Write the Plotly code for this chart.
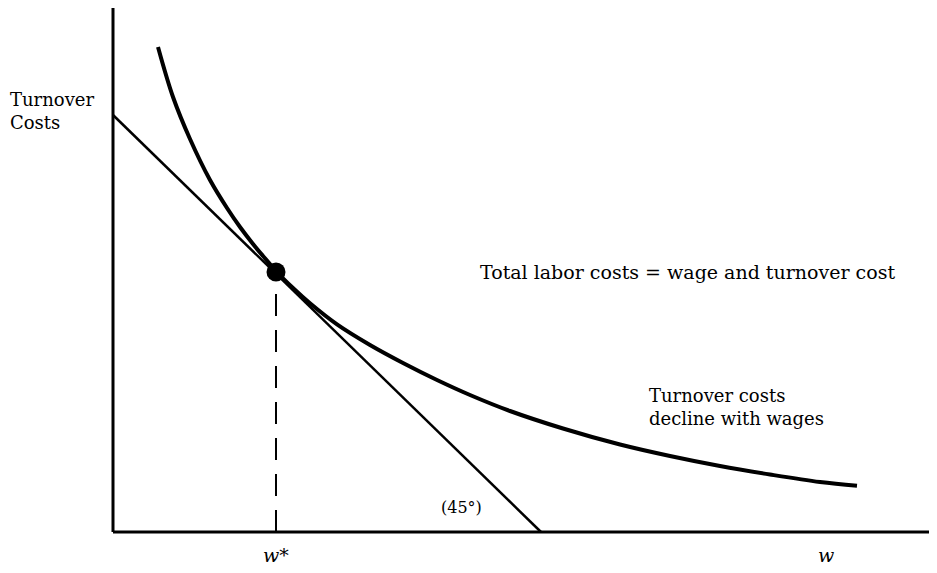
import plotly.graph_objects as go

# Data in chart units (origin at axis intersection)
curve_x = [45, 60, 77, 97, 114, 127, 140, 150, 163, 180, 197, 224, 257, 290, 324, 357, 397, 450, 507, 557, 607, 657, 707, 744]
curve_y = [485, 435, 393, 352, 324, 305, 288, 276, 261, 244, 228.7, 207.6, 187, 169, 152, 137, 121, 103.5, 87.5, 76, 66, 57.5, 50, 46.3]
line_x = [0, 428]
line_y = [417, 0]
opt_x = [163]
opt_y = [260]
drop_x = [163, 163]
drop_y = [0, 252]
yaxis_x = [0, 0]
yaxis_y = [0, 527]
xaxis_x = [0, 840]
xaxis_y = [0, 0]

SERIF = "DejaVu Serif"
fig = go.Figure()
fig.add_trace(go.Scatter(x=yaxis_x, y=yaxis_y, mode="lines", line=dict(color="black", width=3)))
fig.add_trace(go.Scatter(x=xaxis_x, y=xaxis_y, mode="lines", line=dict(color="black", width=3)))
fig.add_trace(go.Scatter(x=line_x, y=line_y, mode="lines", line=dict(color="black", width=2.5)))
fig.add_trace(go.Scatter(x=curve_x, y=curve_y, mode="lines",
                         line=dict(color="black", width=4, shape="spline", smoothing=1)))
fig.add_trace(go.Scatter(x=drop_x, y=drop_y, mode="lines", line=dict(color="black", width=2, dash="22px,14px")))
fig.add_trace(go.Scatter(x=opt_x, y=opt_y, mode="markers", marker=dict(color="black", size=19)))

def ann(x, y, text, xanchor="center", size=17, italic=False):
    fig.add_annotation(x=x, y=y, xref="x", yref="y", text=text, showarrow=False,
                       xanchor=xanchor, yanchor="middle", align="left",
                       font=dict(family=SERIF, size=size, color="black",
                                 style="italic" if italic else "normal"))

ann(-105, 421, "Turnover<br>Costs", xanchor="left", size=18)
ann(163, -23, "w*", italic=True, size=19)
ann(713, -23, "w", italic=True, size=19)
ann(348, 25, "(45°)", size=16)
ann(365, 260, "Total labor costs = wage and turnover cost", xanchor="left", size=19)
ann(534, 125, "Turnover costs<br>decline with wages", xanchor="left", size=18)

# page body adds an 8px offset; ranges compensate so marks land at reference pixels
fig.update_layout(
    width=937, height=573, margin=dict(l=0, r=0, t=0, b=0),
    paper_bgcolor="white", plot_bgcolor="white", showlegend=False,
    xaxis=dict(range=[-105, 832], visible=False, fixedrange=True),
    yaxis=dict(range=[-49, 524], visible=False, fixedrange=True),
)
fig.write_html("out.html")
